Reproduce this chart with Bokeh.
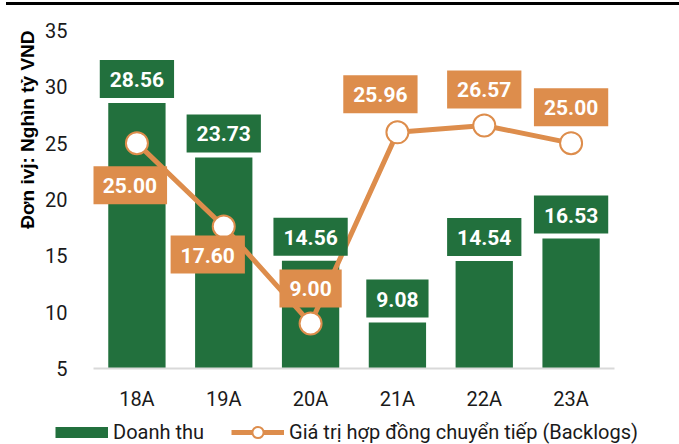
from bokeh.plotting import figure
from bokeh.models import (ColumnDataSource, Range1d, FactorRange, Legend, LegendItem,
                          Title, FixedTicker, InlineStyleSheet)
from bokeh.core.properties import value
from bokeh.embed import file_html
from bokeh.resources import INLINE

categories = ["18A", "19A", "20A", "21A", "22A", "23A"]
revenue = [28.56, 23.73, 14.56, 9.08, 14.54, 16.53]
backlogs = [25.00, 17.60, 9.00, 25.96, 26.57, 25.00]
y_ticks = [5, 10, 15, 20, 25, 30, 35]

GREEN = "#22703D"
ORANGE = "#DD8D4C"
FONT = "Roboto"

# label placement offsets (screen px) for the backlog labels
bl_dx = [-7, -16, 0, -17, 0, 0]
bl_dy = [42, 28, -35, -38, -36, -36]

src = ColumnDataSource(dict(
    cat=categories, rev=revenue, bl=backlogs,
    rev_txt=[f"{v:.2f}" for v in revenue],
    bl_txt=[f"{v:.2f}" for v in backlogs],
    bl_dx=bl_dx, bl_dy=bl_dy,
))

top_rule = InlineStyleSheet(css=""":host::before { content: ''; position: fixed; top: 2px; left: 6px;
 width: 673px; height: 3px; background: #000; z-index: 10; }""")

p = figure(width=679, height=414, x_range=FactorRange(*categories, range_padding=0),
           y_range=Range1d(5, 35), output_backend="svg", toolbar_location=None,
           min_border_left=93, min_border_right=65, min_border_top=30, min_border_bottom=46,
           stylesheets=[top_rule])
p.outline_line_color = None
p.grid.visible = False
p.background_fill_color = "white"

r_bar = p.vbar(x="cat", top="rev", bottom=5, width=0.66, source=src,
               fill_color=GREEN, line_color=None)
r_line = p.line(x="cat", y="bl", source=src, line_color=ORANGE, line_width=5)
r_pts = p.scatter(x="cat", y="bl", source=src, size=22, fill_color="white",
                  line_color=ORANGE, line_width=2)

p.text(x="cat", y="rev", text="rev_txt", source=src, y_offset=-24,
       text_font=value(FONT), text_font_style="bold", text_font_size="21px",
       text_color="white", text_align="center", text_baseline="middle",
       background_fill_color=GREEN, padding=dict(left=10, right=10, top=12, bottom=11))
p.text(x="cat", y="bl", text="bl_txt", source=src, x_offset="bl_dx", y_offset="bl_dy",
       text_font=value(FONT), text_font_style="bold", text_font_size="21px",
       text_color="white", text_align="center", text_baseline="middle",
       background_fill_color=ORANGE, padding=dict(left=10, right=10, top=12, bottom=11))

p.xaxis.axis_line_color = "#D9D9D9"
p.xaxis.axis_line_width = 2
p.xaxis.major_tick_line_color = None
p.xaxis.minor_tick_line_color = None
p.xaxis.major_tick_out = 0
p.xaxis.major_label_text_font = FONT
p.xaxis.major_label_text_font_size = "20px"
p.xaxis.major_label_text_color = "#1a1a1a"
p.xaxis.major_label_standoff = 18

p.yaxis.ticker = FixedTicker(ticks=y_ticks)
p.yaxis.axis_line_color = None
p.yaxis.major_tick_line_color = None
p.yaxis.minor_tick_line_color = None
p.yaxis.major_tick_out = 0
p.yaxis.major_label_text_font = FONT
p.yaxis.major_label_text_font_size = "20px"
p.yaxis.major_label_text_color = "#1a1a1a"
p.yaxis.major_label_standoff = 26

t = Title(text="Đơn ivj: Nghìn tỷ VND", align="right", text_font="Liberation Sans",
          text_font_style="bold", text_font_size="19px", text_color="#000000")
p.add_layout(t, "left")

# legend strip below the chart; its proxy glyphs lie outside its visible range
lg = figure(width=679, height=30, x_range=FactorRange(*categories), y_range=Range1d(100, 101),
            output_backend="svg", toolbar_location=None,
            x_axis_location=None, y_axis_location=None,
            min_border_left=0, min_border_right=0, min_border_top=0, min_border_bottom=0)
lg.outline_line_color = None
lg.grid.visible = False
s_bar = lg.line(x=categories, y=revenue, line_color=GREEN, line_width=11, line_cap="butt")
s_line = lg.line(x=categories, y=backlogs, line_color=ORANGE, line_width=5)
s_pts = lg.scatter(x=categories, y=backlogs, fill_color="white", line_color=ORANGE, line_width=2)

leg = Legend(items=[LegendItem(label="Doanh thu", renderers=[s_bar]),
                    LegendItem(label="Giá trị hợp đồng chuyển tiếp (Backlogs)",
                               renderers=[s_line, s_pts])],
             orientation="horizontal", location=(55, -2), padding=0, margin=0, spacing=27,
             border_line_color=None, background_fill_alpha=0,
             label_text_font=FONT, label_text_font_size="20px",
             label_text_color="#1a1a1a", label_standoff=5,
             glyph_width=53, glyph_height=28)
lg.add_layout(leg, "center")

open("out.html", "w").write(file_html([p, lg], INLINE))
